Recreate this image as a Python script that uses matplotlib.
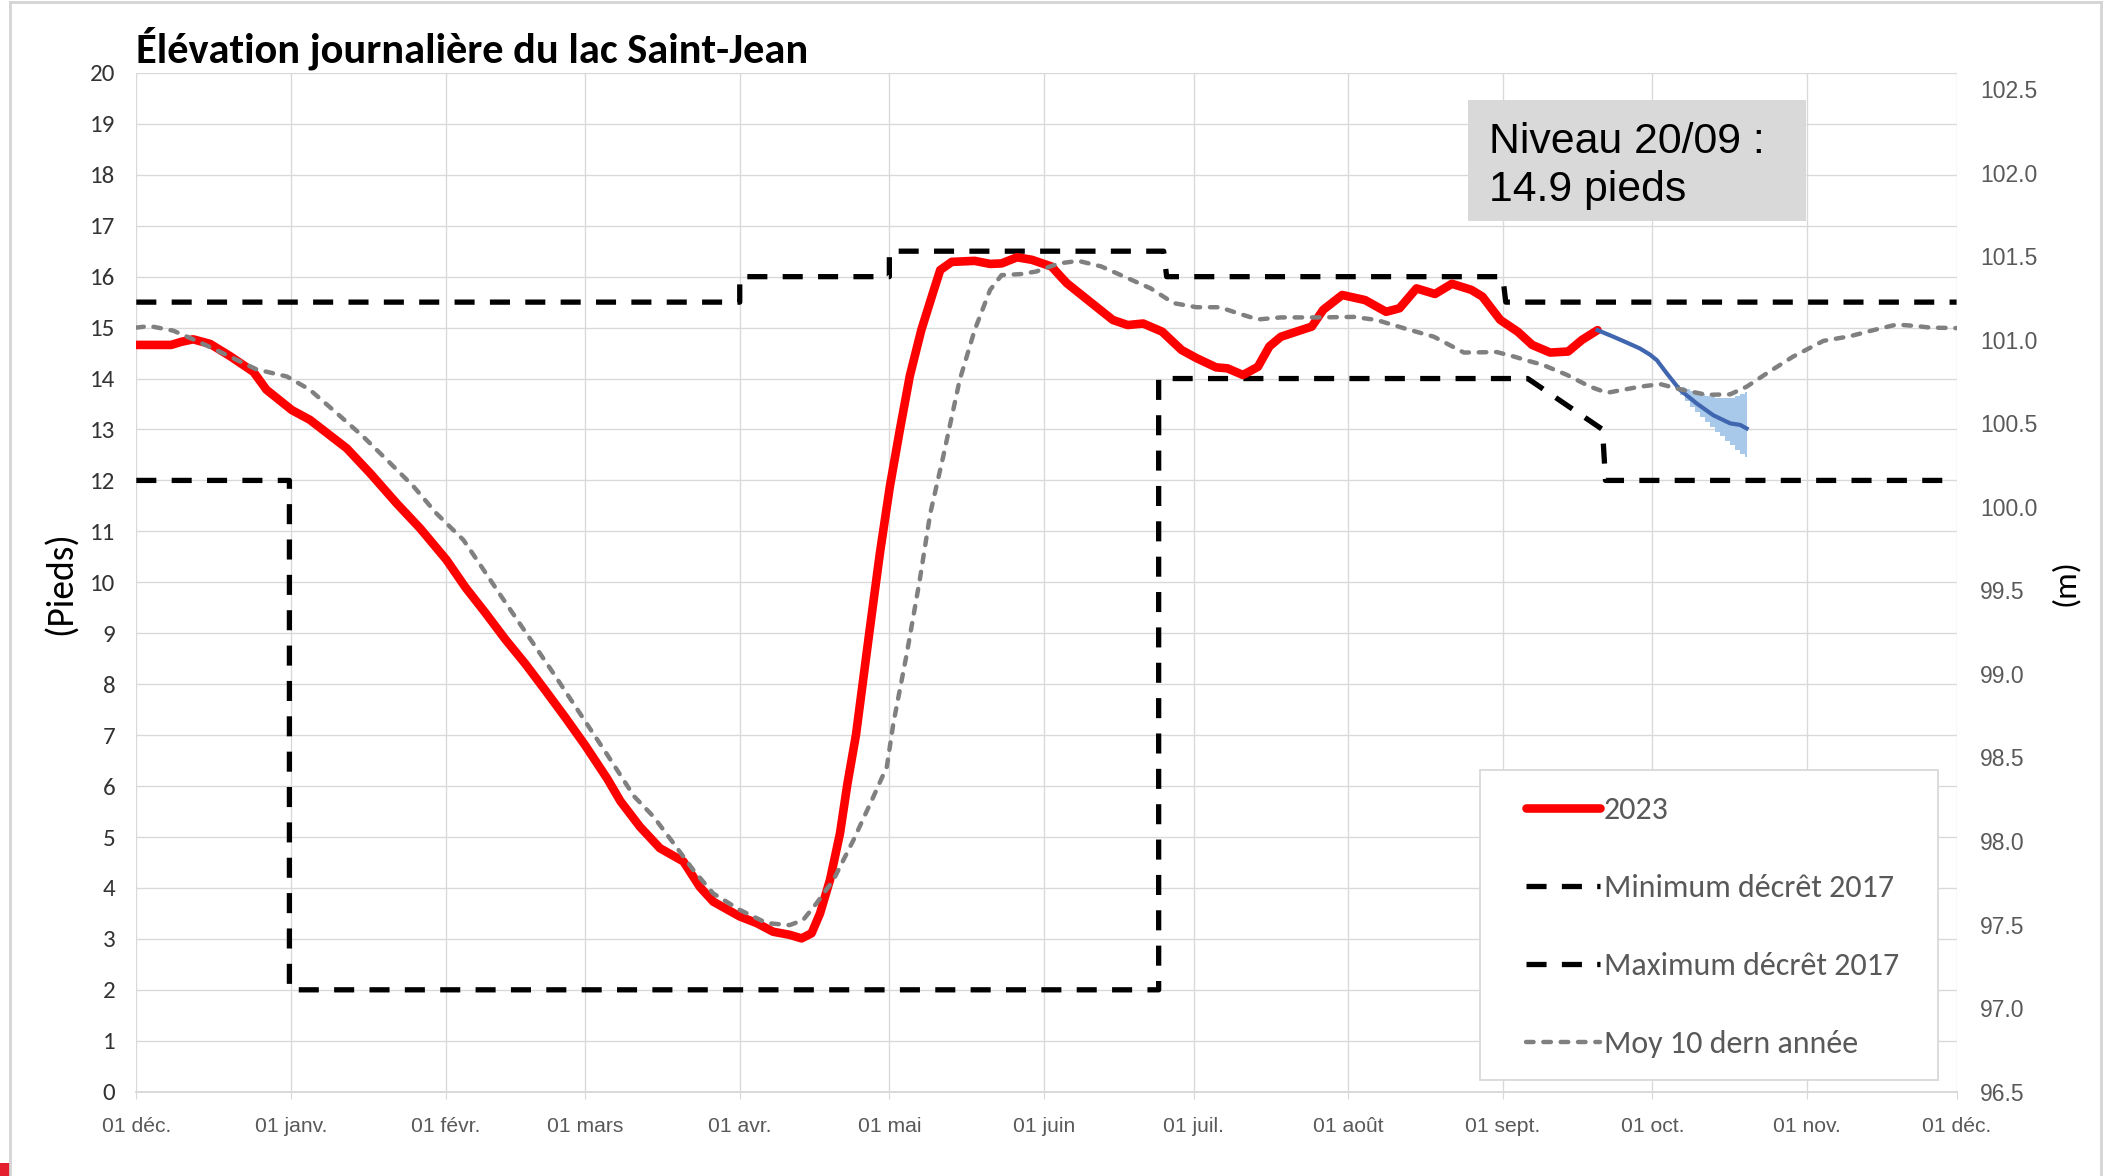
import numpy as np
import pandas as pd
import matplotlib
matplotlib.use("Agg")
import matplotlib.pyplot as plt
from matplotlib import font_manager
from matplotlib.patches import Rectangle
from matplotlib.lines import Line2D

# fonts: Calibri-like and Arial-like
installed = {f.name for f in font_manager.fontManager.ttflist}
def pick(*names):
    for n in names:
        if n in installed:
            return n
    return "DejaVu Sans"
CAL = pick("Carlito", "Lato", "Open Sans", "DejaVu Sans")
ARI = pick("Liberation Sans", "Arimo", "DejaVu Sans")

# ---- data (days from 1 Dec 2022, level in feet) ----
start = pd.Timestamp("2022-12-01")

red_days = [0, 7, 9, 11.4, 14.8, 18.8, 23.5, 26.1, 31.2, 34.8, 42.2, 46.9, 52.2, 56.9,
            62.2, 66, 70, 74, 78, 82, 86, 90, 94.4, 97.1, 101, 105, 109.7, 113, 115.7,
            121, 124.4, 127.7, 131, 133.4, 135.4, 137.1, 139.1, 141.1, 142.6, 144.3,
            147.1, 149.1, 151.1, 153.1, 155.1, 157.4, 159.7, 161.2, 163.5, 168.1, 171.2,
            173.5, 176.6, 179.6, 183.5, 186.6, 191.2, 195.8, 198.8, 201.9, 205.7, 209.6,
            212.6, 216.5, 218.8, 221.9, 224.9, 227.2, 229.5, 235.7, 238, 241.8, 246.4,
            250.6, 253.3, 256.7, 260.4, 263.8, 267.7, 269.9, 273.5, 277, 279.9, 283.5,
            287.1, 289.9, 293]
red_ft = [14.66, 14.66, 14.72, 14.77, 14.68, 14.44, 14.13, 13.78, 13.38, 13.19, 12.63,
          12.14, 11.55, 11.06, 10.44, 9.9, 9.4, 8.88, 8.4, 7.88, 7.35, 6.8, 6.15, 5.7,
          5.2, 4.78, 4.52, 4.02, 3.73, 3.44, 3.31, 3.14, 3.08, 3.01, 3.11, 3.5, 4.16,
          5.07, 6.05, 7.0, 9.1, 10.57, 11.88, 12.99, 14.05, 14.95, 15.67, 16.13, 16.29,
          16.31, 16.25, 16.26, 16.38, 16.33, 16.2, 15.87, 15.51, 15.15, 15.05, 15.08,
          14.92, 14.56, 14.4, 14.22, 14.2, 14.07, 14.23, 14.63, 14.82, 15.02, 15.35,
          15.64, 15.54, 15.31, 15.38, 15.77, 15.66, 15.86, 15.74, 15.61, 15.15, 14.92,
          14.66, 14.51, 14.53, 14.76, 14.95]

avg_days = [0, 2.7, 7.4, 12.1, 18.8, 24.1, 30.2, 34.8, 40.2, 45.5, 50.9, 55.6, 60.2,
            65.6, 68.3, 72.8, 78.2, 83.6, 89, 94.4, 99.8, 103.7, 107.7, 111.7, 115.7,
            121, 126.4, 131, 133.7, 136.4, 139.8, 143.8, 147.8, 150.5, 151.8, 154.5,
            157.1, 159.2, 161.8, 165.1, 168.1, 171.2, 173.5, 177.3, 180.4, 185, 188.9,
            193.5, 198.8, 203.4, 208, 212.6, 217.2, 221.9, 224.9, 229.5, 237.2, 244.1,
            248.7, 254.1, 260.2, 266.2, 272.8, 276.3, 279, 282, 286.9, 291.5, 294.9,
            301.5, 305.6, 309.5, 314.9, 319.6, 322.9, 326.9, 332.2, 338.3, 343.6, 348.3,
            353, 357, 359.7, 365]
avg_ft = [15.0, 15.03, 14.94, 14.74, 14.43, 14.18, 14.04, 13.78, 13.32, 12.86, 12.34,
          11.88, 11.35, 10.83, 10.44, 9.78, 9.0, 8.22, 7.42, 6.62, 5.8, 5.4, 4.88, 4.35,
          3.89, 3.57, 3.31, 3.27, 3.37, 3.7, 4.16, 4.94, 5.79, 6.38, 7.23, 8.6, 10.05,
          11.35, 12.47, 13.97, 14.95, 15.74, 16.03, 16.05, 16.1, 16.26, 16.31, 16.2,
          15.97, 15.77, 15.48, 15.4, 15.4, 15.25, 15.16, 15.2, 15.2, 15.21, 15.15,
          14.99, 14.82, 14.51, 14.52, 14.43, 14.35, 14.27, 14.07, 13.84, 13.72, 13.84,
          13.89, 13.79, 13.68, 13.69, 13.84, 14.1, 14.43, 14.74, 14.83, 14.95, 15.06,
          15.03, 15.0, 14.99]

min_days = [0, 30.7, 30.7, 205, 205, 279, 294, 294.6, 365]
min_ft = [12, 12, 2, 2, 14, 14, 13.0, 12, 12]

max_days = [0, 121, 121, 151, 151, 206, 206.6, 274, 274.6, 365]
max_ft = [15.5, 15.5, 16, 16, 16.5, 16.5, 16, 16, 15.5, 15.5]

fc_days = [293, 296.2, 299, 301.5, 303.5, 304.9, 306.9, 309.5, 312.9, 316.2, 319.6, 321.6, 322.9]
fc_ft = [14.95, 14.82, 14.7, 14.59, 14.47, 14.36, 14.1, 13.78, 13.51, 13.28, 13.12, 13.09, 13.02]

band_days = list(range(308, 324))
band_hi = [13.93, 13.88, 13.83, 13.79, 13.76, 13.72, 13.69, 13.66, 13.63, 13.62, 13.61,
           13.61, 13.62, 13.65, 13.69, 13.73]
band_lo = [13.93, 13.8, 13.68, 13.56, 13.45, 13.34, 13.24, 13.14, 13.05, 12.96, 12.87,
           12.78, 12.69, 12.6, 12.52, 12.46]

month_labels = ["01 déc.", "01 janv.", "01 févr.", "01 mars", "01 avr.", "01 mai", "01 juin",
                "01 juil.", "01 août", "01 sept.", "01 oct.", "01 nov.", "01 déc."]

def to_dates(days):
    return start + pd.to_timedelta(np.asarray(days, dtype=float), unit="D")

W, H = 2116, 1176
fig = plt.figure(figsize=(W / 100, H / 100), dpi=100)
ax = fig.add_axes([136.3 / W, 1 - 1091.7 / H, (1956.6 - 136.3) / W, (1091.7 - 72.9) / H])

dash_blk = (0, (3.8, 2.9))
ax.fill_between(to_dates(band_days), band_lo, band_hi, step="mid", color="#A9C9EB", lw=0, zorder=2)
ax.plot(to_dates(min_days), min_ft, color="black", lw=3.8, ls=dash_blk, zorder=3,
        label="Minimum décrêt 2017")
ax.plot(to_dates(max_days), max_ft, color="black", lw=3.8, ls=dash_blk, zorder=3,
        label="Maximum décrêt 2017")
ax.plot(to_dates(red_days), red_ft, color="#FF0000", lw=6.2, solid_capstyle="round",
        solid_joinstyle="round", zorder=4, label="2023")
ax.plot(to_dates(fc_days), fc_ft, color="#4066B0", lw=3.0, zorder=5)
ax.plot(to_dates(avg_days), avg_ft, color="#808080", lw=3.2, ls=(0, (1.7, 2.2)),
        dash_capstyle="round", zorder=6, label="Moy 10 dern année")

ax.set_xlim(start, to_dates([365])[0])
ax.set_ylim(0, 20)
ax.set_yticks(range(0, 21))
ticks = pd.date_range("2022-12-01", "2023-12-01", freq="MS")
ax.set_xticks(ticks)
ax.set_xticklabels(month_labels)
ax.grid(True, color="#D9D9D9", lw=0.95)
ax.set_axisbelow(True)
for s in ["top", "left", "right"]:
    ax.spines[s].set_visible(False)
ax.spines["bottom"].set_color("#D9D9D9")
ax.spines["bottom"].set_linewidth(1.4)
ax.tick_params(axis="x", direction="out", length=5, color="#D9D9D9", pad=13,
               labelsize=15.2, labelcolor="#595959")
ax.tick_params(axis="y", length=0, pad=15, labelsize=18, labelcolor="#333333")
for t in ax.get_xticklabels():
    t.set_fontfamily(ARI)
for t in ax.get_yticklabels():
    t.set_fontfamily(CAL)

ax2 = ax.twinx()
ax2.set_ylim(96.5, 96.5 + 20 * 0.3048)
ax2.set_yticks(np.arange(96.5, 102.51, 0.5))
ax2.set_yticklabels([f"{v:.1f}" for v in np.arange(96.5, 102.51, 0.5)])
for s in ax2.spines.values():
    s.set_visible(False)
ax2.tick_params(axis="y", length=0, pad=17, labelsize=16.5, labelcolor="#595959")
for t in ax2.get_yticklabels():
    t.set_fontfamily(ARI)

# legend: frame drawn separately, entries placed inside
handles, labels = ax.get_legend_handles_labels()
order = [labels.index(l) for l in ["2023", "Minimum décrêt 2017", "Maximum décrêt 2017", "Moy 10 dern année"]]
fig.add_artist(Rectangle((1480 / W, 1 - 1080 / H), 458 / W, 310 / H, transform=fig.transFigure,
                         facecolor="white", edgecolor="#D9D9D9", lw=1.3, zorder=9))
leg = fig.legend([handles[i] for i in order], [labels[i] for i in order],
                 loc="upper left", bbox_to_anchor=(1526 / W, 1 - 796 / H),
                 bbox_transform=fig.transFigure, borderaxespad=0, borderpad=0,
                 prop={"family": CAL, "size": 23}, labelcolor="#595959",
                 handlelength=2.33, handletextpad=0.1, labelspacing=1.57, frameon=False)
leg.set_zorder(10)

# texts
fig.text(136 / W, 1 - 63 / H, "Élévation journalière du lac Saint-Jean", family=CAL,
         weight="bold", size=30.5, va="baseline", ha="left", color="black")
fig.text(61 / W, 1 - 583 / H, "(Pieds)", family=CAL, size=27, rotation=90,
         ha="center", va="center", color="black")
fig.text(2065 / W, 1 - 583 / H, "(m)", family=CAL, size=24, rotation=90,
         ha="center", va="center", color="black")

fig.add_artist(Rectangle((1468 / W, 1 - 221 / H), 338 / W, 121 / H, transform=fig.transFigure,
                         facecolor="#D9D9D9", edgecolor="none", zorder=5))
fig.text(1489 / W, 1 - 166 / H, "Niveau 20/09 :\n14.9 pieds", family=ARI, size=30.8,
         ha="left", va="center", linespacing=1.25, color="black", zorder=6)

# slide frame
frame_c = "#D4D4D4"
fig.add_artist(Line2D([10 / W, 10 / W], [0, 1 - 2 / H], color=frame_c, lw=2, transform=fig.transFigure))
fig.add_artist(Line2D([10 / W, 2101 / W], [1 - 2 / H, 1 - 2 / H], color=frame_c, lw=2, transform=fig.transFigure))
fig.add_artist(Line2D([2101 / W, 2101 / W], [0, 1 - 2 / H], color=frame_c, lw=2, transform=fig.transFigure))
fig.add_artist(Rectangle((0, 0), 10 / W, 13 / H, transform=fig.transFigure,
                         facecolor="#E5202E", edgecolor="none"))

fig.savefig("out.png", dpi=100)
